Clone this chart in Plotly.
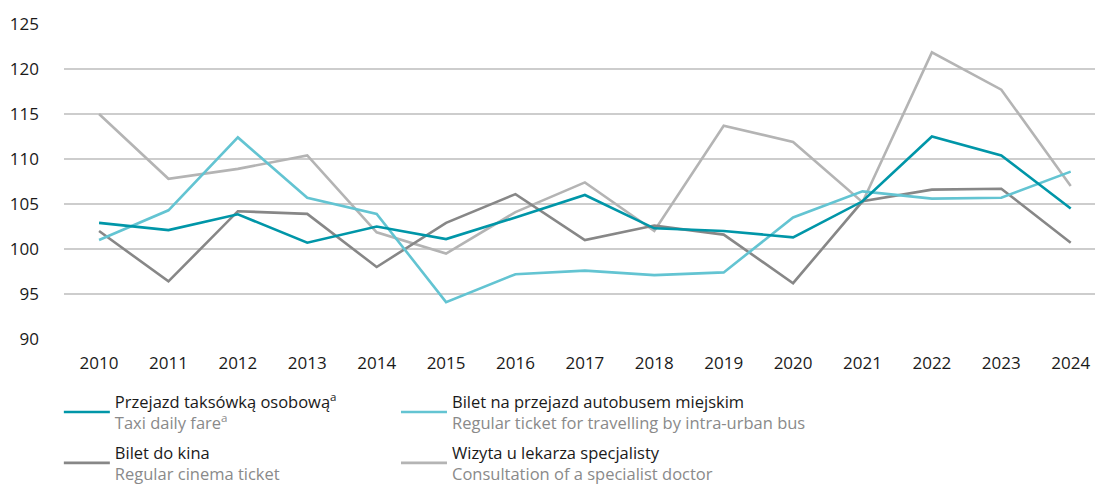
import plotly.graph_objects as go

years = [str(y) for y in range(2010, 2025)]

taxi = [102.9, 102.1, 103.85, 100.7, 102.5, 101.1, 103.5, 106.0, 102.3, 102.0, 101.3, 105.3, 112.5, 110.4, 104.5]
bus = [101.0, 104.3, 112.4, 105.7, 103.9, 94.1, 97.2, 97.6, 97.1, 97.4, 103.5, 106.4, 105.6, 105.7, 108.6]
cinema = [102.0, 96.4, 104.2, 103.9, 98.0, 102.9, 106.1, 101.0, 102.6, 101.6, 96.2, 105.3, 106.6, 106.7, 100.7]
doctor = [115.0, 107.8, 108.9, 110.4, 101.85, 99.5, 104.1, 107.4, 102.0, 113.7, 111.9, 105.2, 121.85, 117.7, 107.0]

y_ticks = [90, 95, 100, 105, 110, 115, 120, 125]

GREY_TXT = "#8a8a8a"
FONT = "Open Sans"

def label(pl, en):
    return f"{pl}<br><span style='color:{GREY_TXT}'>{en}</span>"

series = [
    ("taxi", taxi, "#0096a8", label("Przejazd taksówką osobową<sup>a</sup>", "Taxi daily fare<sup>a</sup>"), "legend"),
    ("cinema", cinema, "#878787", label("Bilet do kina", "Regular cinema ticket"), "legend"),
    ("bus", bus, "#63c4d2", label("Bilet na przejazd autobusem miejskim", "Regular ticket for travelling by intra-urban bus"), "legend2"),
    ("doctor", doctor, "#b4b4b4", label("Wizyta u lekarza specjalisty", "Consultation of a specialist doctor"), "legend2"),
]

fig = go.Figure()
order = ["doctor", "cinema", "bus", "taxi"]
lookup = {s[0]: s for s in series}
legend_rank = {"taxi": 1, "cinema": 2, "bus": 1, "doctor": 2}
for key in order:
    k, vals, col, name, leg = lookup[key]
    fig.add_trace(go.Scatter(
        x=years, y=vals, mode="lines", name=name,
        line=dict(color=col, width=2.6),
        legend=leg, legendgroup=k, legendrank=legend_rank[k],
        hoverinfo="skip",
    ))

fig.add_hline(y=100, line=dict(color="#a3a3a3", width=1.6), layer="below")

legend_common = dict(
    orientation="v", xanchor="left", yanchor="top", yref="container",
    font=dict(family=FONT, size=16.5, color="#1a1a1a"),
    bgcolor="rgba(0,0,0,0)", tracegroupgap=5, itemwidth=46,
    itemclick=False, itemdoubleclick=False,
)

fig.update_layout(
    width=1095, height=497,
    margin=dict(l=64, r=0, t=24, b=158, autoexpand=False),
    paper_bgcolor="white", plot_bgcolor="white",
    font=dict(family=FONT, size=17, color="#1a1a1a"),
    showlegend=True,
    legend=dict(x=-0.005, y=0.2274, **legend_common),
    legend2=dict(x=0.322, y=0.2274, **legend_common),
    xaxis=dict(
        type="category", range=[-0.505, 14.35], automargin=False,
        showgrid=False, showline=False, zeroline=False,
        ticks="", ticklabelstandoff=12,
        tickfont=dict(family=FONT, size=17, color="#1a1a1a"),
    ),
    yaxis=dict(
        range=[90, 125], tickvals=y_ticks, automargin=False,
        showgrid=True, gridcolor="#cdcdcd", gridwidth=1.6,
        zeroline=False, showline=False, ticks="",
        ticklabelstandoff=24,
        tickfont=dict(family=FONT, size=17, color="#1a1a1a"),
    ),
)

fig.write_html(
    "out.html",
    config={"displayModeBar": False},
    post_script="document.body.style.margin='0';document.body.style.overflow='hidden';",
)
